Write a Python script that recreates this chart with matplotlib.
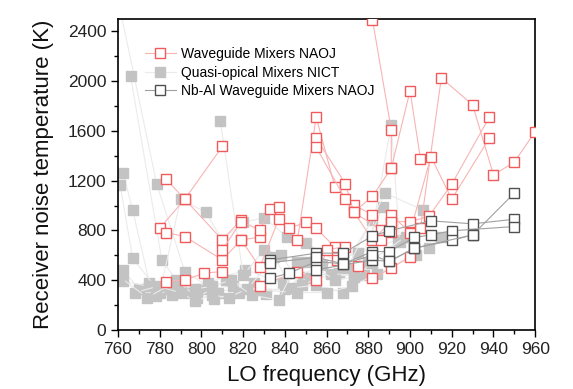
import matplotlib
matplotlib.use("Agg")
import matplotlib.pyplot as plt
from matplotlib.ticker import MultipleLocator

plt.rcParams['font.family'] = ['Liberation Sans', 'DejaVu Sans']

# Waveguide Mixers NAOJ (one list per mixer)
wg_freq = [
    [780, 792, 810],
    [783, 792, 810, 819],
    [783, 792, 810, 819, 828],
    [783, 792, 801, 810],
    [810, 819, 828, 833, 837],
    [819, 828, 837, 842, 850, 855, 864],
    [828, 846, 855, 860, 869],
    [846, 855, 864, 873, 882],
    [855, 869, 873, 886, 891],
    [855, 869, 882, 891],
    [865, 875, 882, 891, 900, 905, 915, 930, 940, 950, 960],
    [882, 891, 891, 882, 873],
    [886, 891, 900, 910, 920, 938],
    [891, 900, 909, 920, 938],
    [891, 900, 905],
]
wg_temp = [
    [818, 1051, 1475],
    [1212, 1051, 724, 885],
    [783, 751, 563, 724, 746],
    [389, 400, 456, 469],
    [644, 871, 804, 973, 992],
    [724, 504, 890, 818, 866, 818, 665],
    [354, 469, 402, 644, 670],
    [724, 1711, 1148, 1005, 925],
    [1542, 1175, 947, 804, 791],
    [1470, 1051, 724, 871],
    [563, 515, 416, 496, 590, 818, 2027, 1810, 1247, 1349, 1595],
    [2494, 1609, 1301, 1073, 947],
    [724, 925, 783, 1394, 1051, 1542],
    [871, 871, 912, 1172, 1711],
    [1301, 1923, 1376],
]

# Quasi-opical Mixers NICT
qo_freq = [
    [760.5, 778.5, 792, 808, 825, 848, 866, 882],
    [766, 781, 790, 800, 815, 831, 852, 873, 887],
    [762.5, 767, 775, 786, 803, 821, 839, 858, 875, 894],
    [761, 767, 780, 790, 802, 810, 820, 830, 841, 850, 870, 888, 906],
    [809, 820, 830, 838, 848, 862, 878, 891, 895, 909, 915],
    [762.5, 770, 778, 785, 795, 806, 818, 828, 840, 855, 868, 880, 898],
    [762.5, 775, 788, 798, 812, 828, 846, 860, 872, 884, 903],
    [768, 779, 790, 797, 805, 813, 822, 835, 843, 850, 864, 873, 882],
    [760.5, 774, 787, 797, 805, 814, 824, 837, 846],
]
qo_temp = [
    [2620, 1175, 469, 300, 380, 426, 458, 885],
    [2043, 563, 350, 330, 350, 290, 420, 442, 990],
    [1261, 965, 380, 280, 380, 483, 378, 520, 620, 724],
    [1167, 577, 300, 1051, 947, 724, 866, 901, 748, 700, 500, 1100, 965],
    [1684, 440, 644, 603, 362, 450, 440, 1649, 710, 657, 751],
    [483, 330, 270, 330, 300, 250, 300, 322, 330, 360, 300, 540, 750],
    [390, 350, 400, 260, 400, 320, 300, 300, 350, 450, 600],
    [300, 350, 300, 230, 280, 260, 330, 587, 338, 547, 402, 426, 539],
    [430, 260, 380, 330, 350, 400, 280, 240, 547],
]

# Nb-Al Waveguide Mixers NAOJ
nbal_freq = [
    [833, 855, 868, 882, 890, 910, 930, 950],
    [833, 842, 855, 868, 882, 890, 902, 910, 920, 950],
    [855, 882, 890, 902, 920, 930, 950],
    [833, 855, 868, 882, 890, 902, 930],
]
nbal_temp = [
    [563, 617, 617, 756, 797, 877, 853, 890],
    [416, 456, 550, 531, 630, 630, 743, 764, 797, 831],
    [483, 563, 550, 657, 719, 764, 1100],
    [540, 583, 531, 600, 550, 657, 764],
]

fig = plt.figure(figsize=(5.73, 3.89), dpi=100)
ax = fig.add_axes([0.206, 0.152, 0.728, 0.799])

red_line = '#f8b4b4'
red_mk = '#f05a5a'
gray_line = '#ebebeb'
gray_mk = '#c3c3c3'
dark_line = '#a0a0a0'
dark_mk = '#505050'

for i, (f, t) in enumerate(zip(qo_freq, qo_temp)):
    ax.plot(f, t, '-s', color=gray_line, lw=0.8, ms=7.5, mfc=gray_mk, mec=gray_mk,
            label='Quasi-opical Mixers NICT' if i == 0 else None, zorder=2)

for i, (f, t) in enumerate(zip(wg_freq, wg_temp)):
    ax.plot(f, t, '-s', color=red_line, lw=0.8, ms=6.5, mfc='white', mec=red_mk, mew=1.0,
            label='Waveguide Mixers NAOJ' if i == 0 else None, zorder=3)

for i, (f, t) in enumerate(zip(nbal_freq, nbal_temp)):
    ax.plot(f, t, '-s', color=dark_line, lw=0.8, ms=6.5, mfc='white', mec=dark_mk, mew=1.0,
            label='Nb-Al Waveguide Mixers NAOJ' if i == 0 else None, zorder=4)

ax.set_xlim(760, 960)
ax.set_ylim(0, 2500)
ax.xaxis.set_major_locator(MultipleLocator(20))
ax.xaxis.set_minor_locator(MultipleLocator(10))
ax.yaxis.set_major_locator(MultipleLocator(400))
ax.yaxis.set_minor_locator(MultipleLocator(200))
ax.tick_params(which='both', direction='out', top=False, right=False, labelsize=12.5,
               labelcolor='#222222')
ax.tick_params(which='major', length=5, width=1.0)
ax.tick_params(which='minor', length=3, width=1.0)
for s in ax.spines.values():
    s.set_linewidth(1.2)

ax.set_xlabel('LO frequency (GHz)', fontsize=16, labelpad=6, color='#111111')
ax.set_ylabel('Receiver noise temperature (K)', fontsize=16, labelpad=10, color='#111111')

h, l = ax.get_legend_handles_labels()
order = [l.index('Waveguide Mixers NAOJ'), l.index('Quasi-opical Mixers NICT'),
         l.index('Nb-Al Waveguide Mixers NAOJ')]
ax.legend([h[k] for k in order], [l[k] for k in order], loc='upper left',
          bbox_to_anchor=(0.035, 0.95), frameon=False, fontsize=10,
          handlelength=2.2, handletextpad=0.35, labelspacing=0.32)

fig.savefig('out.png', dpi=100)
